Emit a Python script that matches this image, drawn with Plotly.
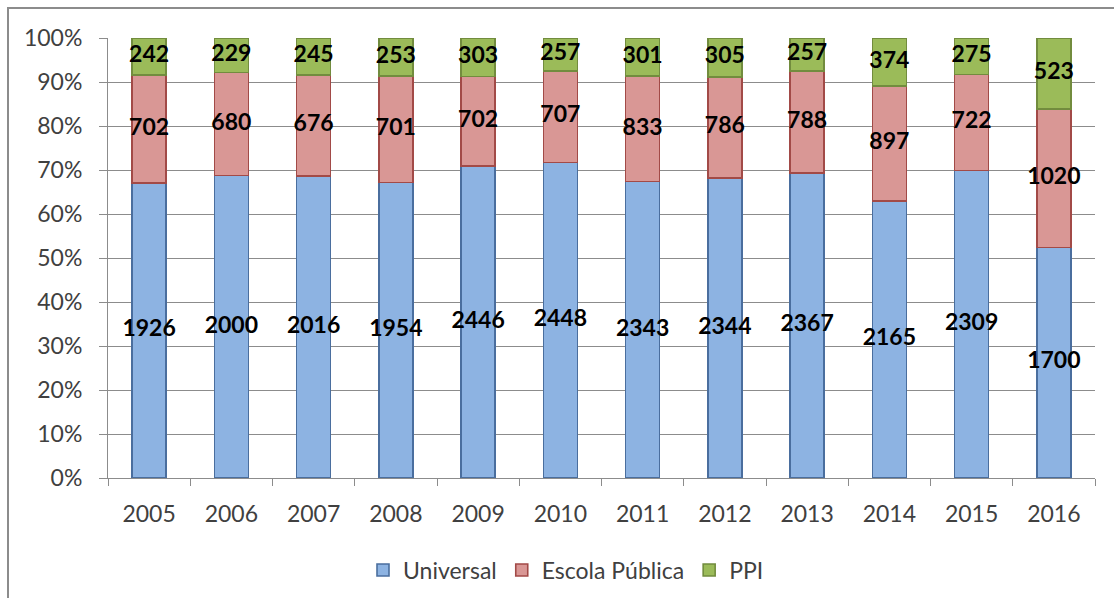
import plotly.graph_objects as go

years = ["2005", "2006", "2007", "2008", "2009", "2010",
         "2011", "2012", "2013", "2014", "2015", "2016"]
universal = [1926, 2000, 2016, 1954, 2446, 2448, 2343, 2344, 2367, 2165, 2309, 1700]
escola_publica = [702, 680, 676, 701, 702, 707, 833, 786, 788, 897, 722, 1020]
ppi = [242, 229, 245, 253, 303, 257, 301, 305, 257, 374, 275, 523]

series = [
    ("Universal", universal, "#8DB3E2", "#4A6E9E"),
    ("Escola Pública", escola_publica, "#D99795", "#A24A47"),
    ("PPI", ppi, "#9BBB59", "#728C3E"),
]

FONT = "Lato"
TXT = "#404040"
fig = go.Figure()
for name, vals, fill, edge in series:
    fig.add_trace(go.Bar(
        x=years, y=vals, name=name,
        marker=dict(color=fill, line=dict(color=edge, width=1.6)),
    ))

# value labels centred in each stacked segment (percent of the year total)
totals = [u + e + p for u, e, p in zip(universal, escola_publica, ppi)]
base = [0.0] * len(years)
for name, vals, _, _ in series:
    mids = []
    for i, v in enumerate(vals):
        share = 100.0 * v / totals[i]
        mids.append(base[i] + share / 2)
        base[i] += share
    fig.add_trace(go.Scatter(
        x=years, y=mids, mode="text", text=[str(v) for v in vals],
        textposition="middle center", showlegend=False, hoverinfo="skip",
        textfont=dict(family=FONT, size=23, color="#000000", weight="bold"),
        cliponaxis=False,
    ))

# plot area: x 108..1095, y 38..478 (px)
L, R, T, B = 108, 1095, 38, 478
W, H = 1114, 598
pw, ph = R - L, B - T

def px_x(p):
    return (p - L) / pw

def px_y(p):
    return (B - p) / ph

fig.update_layout(
    width=W, height=H,
    margin=dict(l=L, r=W - R, t=T, b=H - B, autoexpand=False),
    barmode="stack", barnorm="percent", bargap=0.585,
    paper_bgcolor="white", plot_bgcolor="white",
    font=dict(family=FONT, size=23, color=TXT),
    showlegend=True,
    legend=dict(orientation="h", x=px_x(566), xanchor="center",
                y=px_y(570), yanchor="middle",
                font=dict(family=FONT, size=23, color=TXT),
                traceorder="normal", itemwidth=30),
    shapes=[dict(type="rect", xref="paper", yref="paper",
                 x0=px_x(8), x1=px_x(1130), y0=px_y(8), y1=px_y(620),
                 line=dict(color="#8C8C8C", width=2), layer="below")],
)

fig.update_xaxes(
    type="category", range=[-0.5, len(years) - 0.5],
    tickson="boundaries", ticks="outside", ticklen=7,
    tickcolor="#8C8C8C", showline=True, linecolor="#8C8C8C", linewidth=1,
    showgrid=False, ticklabelstandoff=15, automargin=False,
    tickfont=dict(family=FONT, size=23, color=TXT),
)
fig.update_yaxes(
    range=[0, 100], dtick=10, ticksuffix="%", ticks="outside", ticklen=8,
    tickcolor="#8C8C8C", showline=True, linecolor="#8C8C8C", linewidth=1,
    showgrid=True, gridcolor="#8C8C8C", gridwidth=1, zeroline=False,
    ticklabelstandoff=12, automargin=False,
    tickfont=dict(family=FONT, size=23, color=TXT),
)

fig.write_html("out.html")
